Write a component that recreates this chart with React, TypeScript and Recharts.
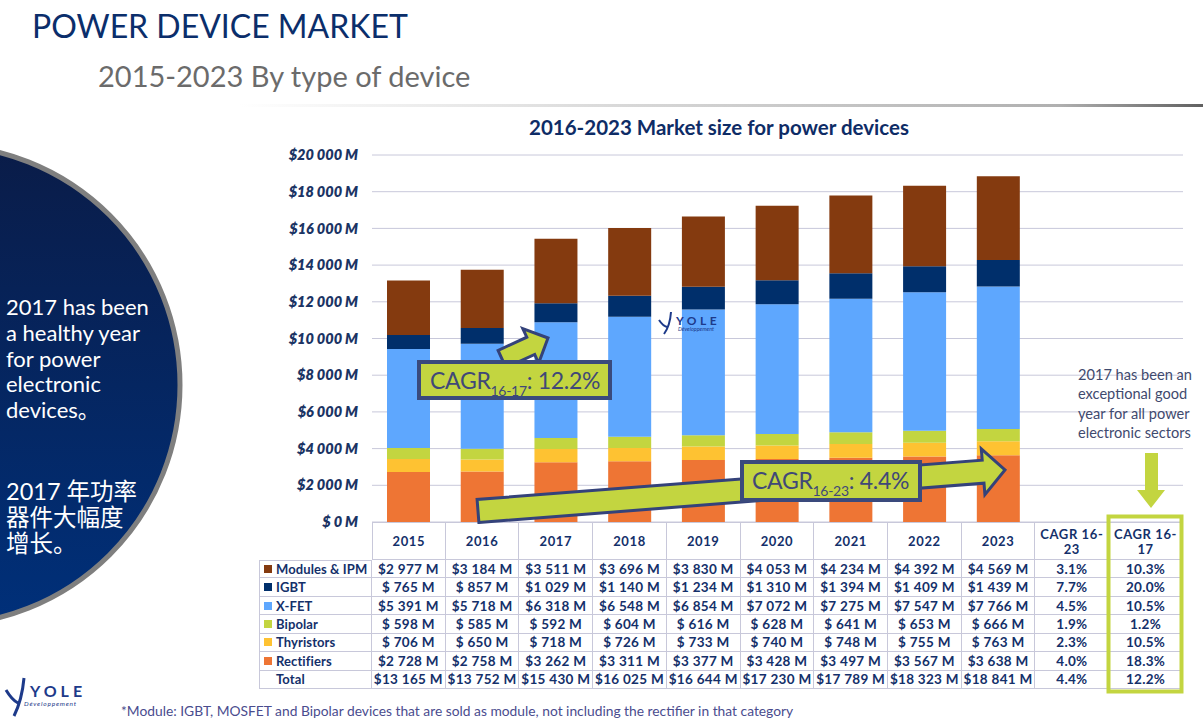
import React from 'react';
import { BarChart, Bar, XAxis, YAxis, CartesianGrid } from 'recharts';

// ---------- DATA ----------
const years = ['2015', '2016', '2017', '2018', '2019', '2020', '2021', '2022', '2023'];
const cagrColumns = ['CAGR 16-23', 'CAGR 16-17'];
const modules = [2977, 3184, 3511, 3696, 3830, 4053, 4234, 4392, 4569];
const igbt = [765, 857, 1029, 1140, 1234, 1310, 1394, 1409, 1439];
const xfet = [5391, 5718, 6318, 6548, 6854, 7072, 7275, 7547, 7766];
const bipolar = [598, 585, 592, 604, 616, 628, 641, 653, 666];
const thyristors = [706, 650, 718, 726, 733, 740, 748, 755, 763];
const rectifiers = [2728, 2758, 3262, 3311, 3377, 3428, 3497, 3567, 3638];
const totals = [13165, 13752, 15430, 16025, 16644, 17230, 17789, 18323, 18841];
const cagr1623 = ['3.1%', '7.7%', '4.5%', '1.9%', '2.3%', '4.0%', '4.4%'];
const cagr1617 = ['10.3%', '20.0%', '10.5%', '1.2%', '10.5%', '18.3%', '12.2%'];
const yTicks = [0, 2000, 4000, 6000, 8000, 10000, 12000, 14000, 16000, 18000, 20000];

const seriesKeys = ['rectifiers', 'thyristors', 'bipolar', 'xfet', 'igbt', 'modules'];
const seriesValues: Record<string, number[]> = { modules, igbt, xfet, bipolar, thyristors, rectifiers };
const seriesColors: Record<string, string> = {
  modules: '#843A0F',
  igbt: '#002F6B',
  xfet: '#5EA7FE',
  bipolar: '#C3D540',
  thyristors: '#FEC232',
  rectifiers: '#EE7534',
};
const tableRows = [
  { key: 'modules', label: 'Modules & IPM' },
  { key: 'igbt', label: 'IGBT' },
  { key: 'xfet', label: 'X-FET' },
  { key: 'bipolar', label: 'Bipolar' },
  { key: 'thyristors', label: 'Thyristors' },
  { key: 'rectifiers', label: 'Rectifiers' },
];
const circleTextEn = ['2017 has been', 'a healthy year', 'for power', 'electronic', 'devices。'];
const circleTextZh = ['2017 年功率', '器件大幅度', '增长。'];
const noteLines = ['2017 has been an', 'exceptional good', 'year for all power', 'electronic sectors'];

const chartData = [
  ...years.map((cat, i) => {
    const row: Record<string, string | number> = { cat };
    seriesKeys.forEach((k) => (row[k] = seriesValues[k][i]));
    return row;
  }),
  ...cagrColumns.map((cat) => ({ cat })),
];

// ---------- FORMATTERS ----------
const thousands = (v: number) => {
  if (v < 1000) return String(v);
  const hi = Math.floor(v / 1000);
  const lo = String(v % 1000).padStart(3, '0');
  return `${hi} ${lo}`;
};
const fmtTick = (v: number) => (v === 0 ? '$ 0 M' : `$${thousands(v)} M`);
const fmtCell = (v: number) => (v < 1000 ? `$ ${v} M` : `$${thousands(v)} M`);

const arrow = (x1: number, y1: number, x2: number, y2: number, sw: number, hw: number, hl: number) => {
  const dx = x2 - x1, dy = y2 - y1, L = Math.hypot(dx, dy);
  const ux = dx / L, uy = dy / L, nx = -uy, ny = ux;
  const bx = x2 - ux * hl, by = y2 - uy * hl;
  const pts = [
    [x1 + nx * sw, y1 + ny * sw], [bx + nx * sw, by + ny * sw], [bx + nx * hw, by + ny * hw],
    [x2, y2], [bx - nx * hw, by - ny * hw], [bx - nx * sw, by - ny * sw], [x1 - nx * sw, y1 - ny * sw],
  ];
  return pts.map((p) => p.map((n) => n.toFixed(1)).join(',')).join(' ');
};

const NAVY = '#14306A';
const LIME = '#C3D540';
const BORDER = '#C8C8DA';
const FONT = "Lato, 'Noto Sans CJK SC', sans-serif";

const COLW = 811 / 11;

function Table() {
  const cells: React.ReactNode[] = [];
  const cellBase: React.CSSProperties = {
    boxSizing: 'border-box',
    borderRight: `1px solid ${BORDER}`,
    borderBottom: `1px solid ${BORDER}`,
    display: 'flex',
    alignItems: 'center',
    justifyContent: 'center',
    fontWeight: 700,
    fontSize: 13.5,
    letterSpacing: 0.3,
    color: NAVY,
    whiteSpace: 'nowrap',
  };
  cells.push(<div key="corner" />);
  [...years, ...cagrColumns].forEach((h, i) => {
    cells.push(
      <div key={'h' + i} style={{ ...cellBase, fontSize: 13, letterSpacing: 0.6, borderTop: `1px solid ${BORDER}`, borderLeft: i === 0 ? `1px solid ${BORDER}` : undefined, textAlign: 'center', lineHeight: '15px', paddingTop: i >= 9 ? 2 : 0 }}>
        {i >= 9 ? (
          <span>
            CAGR 16-
            <br />
            {i === 9 ? '23' : '17'}
          </span>
        ) : (
          h
        )}
      </div>
    );
  });
  const allRows = [...tableRows.map((r) => ({ ...r, vals: seriesValues[r.key] })), { key: 'total', label: 'Total', vals: totals }];
  allRows.forEach((r, ri) => {
    cells.push(
      <div key={'l' + ri} style={{ ...cellBase, fontSize: 13, letterSpacing: 0.1, justifyContent: 'flex-start', borderLeft: `1px solid ${BORDER}`, borderTop: ri === 0 ? `1px solid ${BORDER}` : undefined, paddingLeft: 4 }}>
        <span style={{ display: 'inline-block', width: 8, height: 8, background: r.key === 'total' ? 'transparent' : seriesColors[r.key], marginRight: 4 }} />
        {r.label}
      </div>
    );
    r.vals.forEach((v, ci) => {
      cells.push(
        <div key={`c${ri}-${ci}`} style={cellBase}>
          {fmtCell(v)}
        </div>
      );
    });
    cells.push(<div key={`g${ri}`} style={cellBase}>{cagr1623[ri]}</div>);
    cells.push(<div key={`k${ri}`} style={cellBase}>{cagr1617[ri]}</div>);
  });
  return (
    <div
      style={{
        position: 'absolute',
        left: 259,
        top: 522,
        display: 'grid',
        gridTemplateColumns: `113px repeat(11, ${COLW}px)`,
        gridTemplateRows: `38px repeat(7, 18.43px)`,
        fontFamily: FONT,
      }}
    >
      {cells}
    </div>
  );
}

export default function App() {
  return (
    <div style={{ position: 'relative', width: 1203, height: 722, background: '#fff', overflow: 'hidden', fontFamily: FONT }}>
      <style>{'body{margin:0;}'}</style>

      {/* background decorations */}
      <svg width={1203} height={722} style={{ position: 'absolute', left: 0, top: 0 }}>
        <defs>
          <linearGradient id="circ" x1="0" y1="0" x2="0" y2="1">
            <stop offset="0" stopColor="#0A1C48" />
            <stop offset="1" stopColor="#00307A" />
          </linearGradient>
          <linearGradient id="rule" x1="0" y1="0" x2="1" y2="0">
            <stop offset="0" stopColor="#ffffff" />
            <stop offset="0.4" stopColor="#d8d8d8" />
            <stop offset="0.85" stopColor="#b0b0b0" />
            <stop offset="1" stopColor="#606060" />
          </linearGradient>
        </defs>
        <rect x={240} y={104} width={963} height={3} fill="url(#rule)" />
        <circle cx={-60} cy={385} r={240} fill="url(#circ)" stroke="#7F7F7F" strokeWidth={5} />
        <text x={32} y={38} fontSize={32} fill="#0B2E6B" fontFamily={FONT}>POWER DEVICE MARKET</text>
        <text x={98} y={87} fontSize={29} fill="#6B6B6B" fontFamily={FONT}>2015-2023 By type of device</text>
        <text x={6} y={315} fill="#ffffff" fontSize={22} fontFamily={FONT}>
          {circleTextEn.map((t, i) => (
            <tspan key={i} x={6} dy={i === 0 ? 0 : 25.8}>{t}</tspan>
          ))}
        </text>
        <text x={6} y={500} fill="#ffffff" fontSize={23.5} fontFamily={FONT}>
          {circleTextZh.map((t, i) => (
            <tspan key={i} x={6} dy={i === 0 ? 0 : 25.8}>{t}</tspan>
          ))}
        </text>
        <text x={719} y={135} textAnchor="middle" fontSize={20.5} fontWeight={700} fill="#0E2C66" fontFamily={FONT}>
          2016-2023 Market size for power devices
        </text>
        <text x={121} y={716} fontSize={13.8} fill="#4A4C8E" fontFamily={FONT}>
          *Module: IGBT, MOSFET and Bipolar devices that are sold as module, not including the rectifier in that category
        </text>
        {/* bottom-left logo */}
        <g>
          <path d="M6,690 Q12,700 18,703 M24,678 Q22,700 14,716" stroke="#1D3A8A" strokeWidth={3} fill="none" />
          <text x={30} y={697} fontSize={16} fontWeight={700} fill="#1D3A8A" letterSpacing={4} fontFamily={FONT}>YOLE</text>
          <text x={24} y={706} fontSize={6.5} fontStyle="italic" fill="#1D3A8A" letterSpacing={0.8} fontFamily={FONT}>Développement</text>
        </g>
      </svg>

      <div style={{ position: 'absolute', left: 260, top: 140 }}>
        <BarChart width={935} height={392} data={chartData} margin={{ top: 15, right: 12, bottom: 10, left: 0 }} barSize={43}>
          <CartesianGrid vertical={false} stroke={BORDER} strokeWidth={1} />
          <XAxis dataKey="cat" hide />
          <YAxis
            domain={[0, 20000]}
            ticks={yTicks}
            tickFormatter={fmtTick}
            axisLine={false}
            tickLine={false}
            tickSize={0}
            tickMargin={14}
            width={112}
            interval={0}
            tick={{ fill: '#1B3464', fontSize: 14.5, fontWeight: 800, fontStyle: 'italic', fontFamily: FONT }}
          />
          {seriesKeys.map((k) => (
            <Bar key={k} dataKey={k} stackId="a" fill={seriesColors[k]} isAnimationActive={false} />
          ))}
        </BarChart>
      </div>

      <Table />

      {/* annotations overlay */}
      <svg width={1203} height={722} style={{ position: 'absolute', left: 0, top: 0, pointerEvents: 'none' }}>
        {/* watermark */}
        <g>
          <path d="M659,320 Q663,326 667,327 M671,312 Q670,326 664,334" stroke="#1D3A8A" strokeWidth={2} fill="none" />
          <text x={676} y={325} fontSize={12} fontWeight={700} fill="#1D3A8A" letterSpacing={3.5} fontFamily={FONT}>YOLE</text>
          <text x={678} y={331} fontSize={5.5} fontStyle="italic" fill="#1D3A8A" fontFamily={FONT}>Développement</text>
        </g>
        <polygon points={arrow(478, 511, 1005, 470, 11.5, 23, 22)} fill={LIME} stroke="#34427A" strokeWidth={3} strokeLinejoin="miter" />
        <polygon points={arrow(502, 359, 548, 338, 9.5, 19, 19)} fill={LIME} stroke="#34427A" strokeWidth={3} strokeLinejoin="miter" />
        <rect x={419} y={362} width={191} height={36} fill={LIME} stroke="#3A4A7C" strokeWidth={4} />
        <text x={430} y={389} fontSize={23} fill="#404878" fontFamily={FONT} letterSpacing={-0.3}>
          CAGR<tspan fontSize={14} dy={7}>16-17</tspan><tspan dy={-7}>: 12.2%</tspan>
        </text>
        <rect x={742} y={462} width={178} height={38} fill={LIME} stroke="#3A4A7C" strokeWidth={4} />
        <text x={752} y={489} fontSize={23} fill="#404878" fontFamily={FONT} letterSpacing={-0.3}>
          CAGR<tspan fontSize={14} dy={7}>16-23</tspan><tspan dy={-7}>: 4.4%</tspan>
        </text>
        {/* right note */}
        <text x={1078} y={380} fontSize={14.6} fill="#3F4A6E" fontFamily={FONT}>
          {noteLines.map((t, i) => (
            <tspan key={i} x={1078} dy={i === 0 ? 0 : 19.4}>{t}</tspan>
          ))}
        </text>
        <polygon points="1145,453 1158,453 1158,490 1165,490 1151,508 1137,490 1145,490" fill={LIME} />
        <rect x={1108.5} y={516.5} width={73} height={175} fill="none" stroke={LIME} strokeWidth={4} />
      </svg>
    </div>
  );
}
